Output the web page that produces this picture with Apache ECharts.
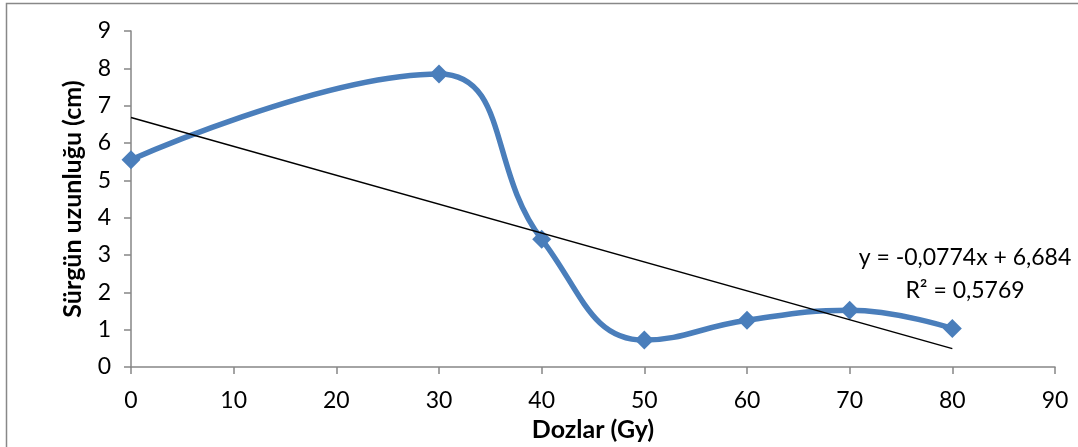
<!DOCTYPE html>
<html><head><meta charset="utf-8">
<script src="https://cdn.jsdelivr.net/npm/echarts@6/dist/echarts.min.js"></script>
<style>html,body{margin:0;padding:0;background:#fff}#c{width:1078px;height:447px}</style>
</head><body><div id="c"></div>
<script>
const doses = [0, 30, 40, 50, 60, 70, 80];
const lengths = [5.55, 7.85, 3.42, 0.72, 1.25, 1.52, 1.03];
const trendX = [0, 80];
const trendY = [6.684, 0.492];
const xTicks = [0, 10, 20, 30, 40, 50, 60, 70, 80, 90];
const yTicks = [0, 1, 2, 3, 4, 5, 6, 7, 8, 9];
const eqText = ['y = -0,0774x + 6,684', 'R² = 0,5769'];
const xTitle = 'Dozlar (Gy)';
const yTitle = 'Sürgün uzunluğu (cm)';

const font = 'Lato, "Open Sans", sans-serif';
const chart = echarts.init(document.getElementById('c'), null, {renderer: 'canvas'});
const axisColor = '#868686';
chart.setOption({
  animation: false,
  grid: {left: 131, right: 23, top: 31, bottom: 80, containLabel: false},
  xAxis: {
    type: 'value', min: xTicks[0], max: xTicks[xTicks.length - 1], interval: 10,
    name: xTitle, nameLocation: 'middle', nameGap: 50,
    nameTextStyle: {fontFamily: font, fontSize: 25, fontWeight: 'bold', color: '#000'},
    axisLine: {show: true, lineStyle: {color: axisColor, width: 1.5}},
    axisTick: {show: true, length: 7, lineStyle: {color: axisColor, width: 1.5}},
    axisLabel: {fontFamily: font, fontSize: 23, color: '#000', margin: 22},
    splitLine: {show: false}
  },
  yAxis: {
    type: 'value', min: yTicks[0], max: yTicks[yTicks.length - 1], interval: 1,
    name: yTitle, nameLocation: 'middle', nameGap: 46, nameRotate: 90,
    nameTextStyle: {fontFamily: font, fontSize: 25, fontWeight: 'bold', color: '#000'},
    axisLine: {show: true, lineStyle: {color: axisColor, width: 1.5}},
    axisTick: {show: true, length: 7, lineStyle: {color: axisColor, width: 1.5}},
    axisLabel: {fontFamily: font, fontSize: 23, color: '#000', margin: 20},
    splitLine: {show: false}
  },
  series: [
    {
      type: 'line', data: trendX.map((x, i) => [x, trendY[i]]),
      symbol: 'none', lineStyle: {color: '#000', width: 1.5}, z: 3
    },
    {
      type: 'line', data: doses.map((x, i) => [x, lengths[i]]),
      smooth: 0.45, symbol: 'diamond', symbolSize: 19,
      lineStyle: {color: '#4a7ebb', width: 5.5},
      itemStyle: {color: '#4a7ebb'}, z: 2
    }
  ],
  graphic: [
    {type: 'rect', shape: {x: 6.5, y: 3.5, width: 1100, height: 500},
     style: {fill: 'none', stroke: '#888', lineWidth: 1.5}, silent: true},
    {type: 'text', x: 965, y: 258, style: {text: eqText[0], fontFamily: font, fontSize: 23, fill: '#000', align: 'center', verticalAlign: 'middle'}},
    {type: 'text', x: 965, y: 291, style: {text: eqText[1], fontFamily: font, fontSize: 23, fill: '#000', align: 'center', verticalAlign: 'middle'}}
  ]
});
</script></body></html>
